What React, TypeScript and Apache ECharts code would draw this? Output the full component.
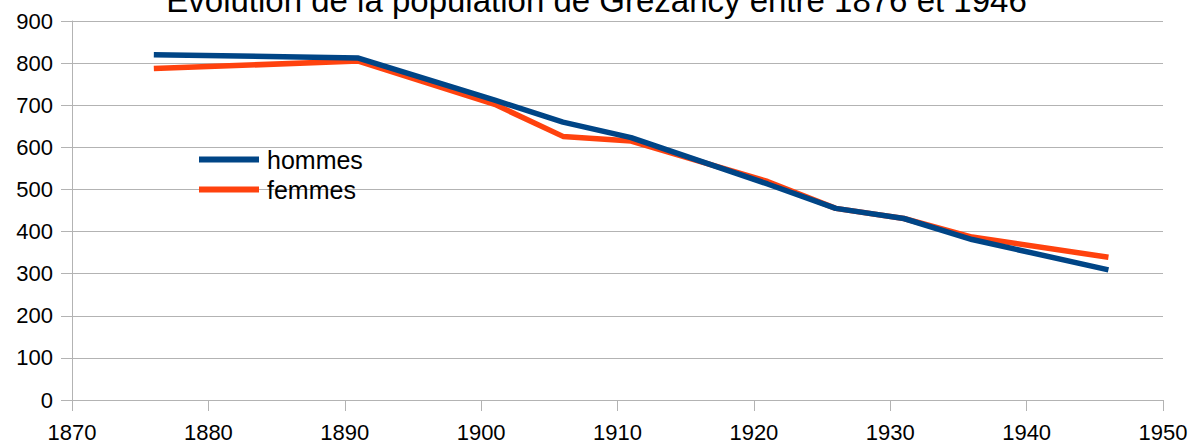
import React, { useEffect, useRef } from "react";
import * as echarts from "echarts";

const years = [1876, 1891, 1901, 1906, 1911, 1921, 1926, 1931, 1936, 1946];
const hommes = [820, 812, 712, 660, 623, 513, 455, 431, 381, 309];
const femmes = [787, 805, 702, 626, 615, 519, 455, 431, 387, 339];
const titleText = "Evolution de la population de Grezancy entre 1876 et 1946";
const seriesNames = ["hommes", "femmes"];
const colors = ["#004586", "#ff420e"];

export default function App() {
  const ref = useRef<HTMLDivElement>(null);
  useEffect(() => {
    if (!ref.current) return;
    const chart = echarts.init(ref.current, null, { renderer: "svg" });
    const font = "'Liberation Sans', Arial, sans-serif";
    chart.setOption({
      animation: false,
      backgroundColor: "#ffffff",
      color: colors,
      title: {
        text: titleText,
        left: "center",
        top: -21,
        textStyle: { fontFamily: font, fontSize: 33, fontWeight: "normal", color: "#000" },
      },
      legend: {
        orient: "vertical",
        left: 199,
        top: 147,
        padding: 0,
        icon: "rect",
        itemWidth: 60,
        itemHeight: 6,
        itemGap: 5,
        textStyle: { fontFamily: font, fontSize: 25, color: "#000", padding: [0, 0, 0, 3] },
        data: seriesNames,
      },
      grid: { left: 72, right: 30, top: 21, bottom: 45, containLabel: false },
      xAxis: {
        type: "value",
        min: 1870,
        max: 1950,
        interval: 10,
        axisLine: { show: true, lineStyle: { color: "#b3b3b3", width: 1 } },
        axisTick: { show: true, length: 11, lineStyle: { color: "#b3b3b3" } },
        axisLabel: {
          fontFamily: font,
          fontSize: 22,
          color: "#000",
          margin: 21,
          formatter: (v: number) => String(v),
        },
        splitLine: { show: false },
      },
      yAxis: {
        type: "value",
        min: 0,
        max: 900,
        interval: 100,
        axisLine: { show: true, lineStyle: { color: "#b3b3b3", width: 1 } },
        axisTick: { show: true, length: 11, lineStyle: { color: "#b3b3b3" } },
        axisLabel: {
          fontFamily: font,
          fontSize: 22,
          color: "#000",
          margin: 19,
          formatter: (v: number) => String(v),
        },
        splitLine: { show: true, lineStyle: { color: "#b3b3b3", width: 1 } },
      },
      series: [
        {
          name: seriesNames[0],
          type: "line",
          symbol: "none",
          data: years.map((y, i) => [y, hommes[i]]),
          lineStyle: { width: 5.5, color: colors[0] },
          z: 3,
        },
        {
          name: seriesNames[1],
          type: "line",
          symbol: "none",
          data: years.map((y, i) => [y, femmes[i]]),
          lineStyle: { width: 5.5, color: colors[1] },
          z: 2,
        },
      ],
    });
    return () => chart.dispose();
  }, []);
  return (
    <div
      ref={ref}
      style={{ position: "fixed", left: 0, top: 0, width: 1193, height: 445 }}
    />
  );
}
